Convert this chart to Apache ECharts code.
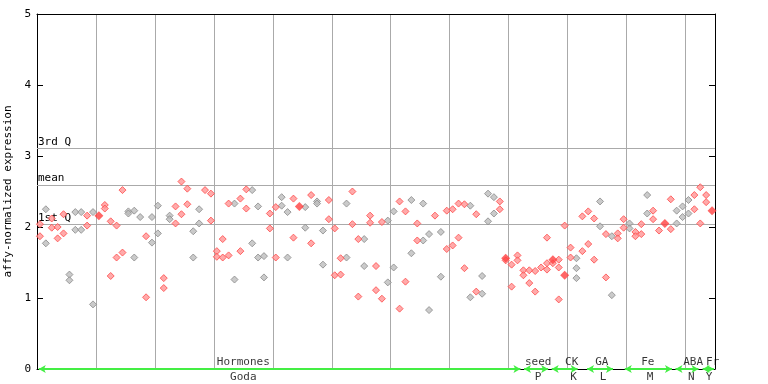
<!DOCTYPE html>
<html><head><meta charset="utf-8">
<script src="https://cdn.jsdelivr.net/npm/echarts@6/dist/echarts.min.js"></script>
<style>html,body{margin:0;padding:0;background:#fff}#c{width:768px;height:384px}</style>
</head><body><div id="c"></div>
<script>
// expression values per sample column (115 columns)
const columnValues = [
 [2.04,1.87],[2.25,1.77],[2.12,1.99],[2.00,1.84],[2.18,1.91],[1.33,1.25],[2.21,1.96],[2.21,1.96],[2.16,2.02],[2.21,0.91],
 [],[2.31,2.26],[2.08,1.31],[2.02,1.57],[2.52,1.64],[2.22,2.19],[2.23,1.57],[2.14],[1.87,1.01],[2.14,1.78],
 [2.30,1.91],[1.28,1.14],[2.16,2.11],[2.29,2.05],[2.64,2.18],[2.54,2.32],[1.94,1.57],[2.25,2.05],[2.52],[2.47,2.09],
 [1.66,1.58],[1.83,1.57],[2.33,1.60],[2.33,1.26],[2.40,1.66],[2.53,2.26],[2.52,1.77],[2.29,1.57],[1.59,1.29],[2.19,1.98],
 [2.28,1.57],[2.42,2.30],[2.21,1.57],[2.40,1.85],[],[2.28,1.99],[2.45,1.77],[2.36,2.33],[1.95,1.47],[2.38,2.11],
 [1.98,1.32],[1.56,1.33],[2.33,1.57],[2.50,2.04],[1.83,1.02],[1.83,1.45],[2.16,2.06],[1.45,1.11],[2.07,0.99],[2.09,1.22],
 [2.22,1.43],[2.36,0.85],[2.22,1.23],[2.38,1.63],[2.05,1.81],[2.33,1.81],[1.90,0.83],[2.16],[1.93,1.30],[2.23,1.69],
 [2.25,1.74],[2.33,1.85],[2.32,1.42],[2.30,1.01],[2.18,1.09],[1.31,1.06],[2.47,2.08],[2.42,2.19],[2.36,2.25],[1.53],
 [1.47,1.16],[1.60,1.53],[1.39,1.32],[1.39,1.21],[1.38,1.09],[1.43],[1.85,1.49,1.40],[1.49],[1.54,1.43,0.98],[2.02],
 [1.71,1.57],[1.56,1.42,1.28],[2.15,1.66],[2.22,1.76],[2.12,1.54],[2.36,2.01],[1.90,1.29],[1.87,1.04],[1.91,1.84],[2.11,1.99],
 [2.05,1.98],[1.93,1.87],[2.04,1.90],[2.45,2.19],[2.23,2.11],[1.95],[],[2.39,1.97],[2.23,2.05],[2.29,2.14],
 [2.38,2.19],[2.45,2.25],[2.56,2.05],[2.45,2.35],[]
];
// r = red sample, g = grey sample
const columnColor = "rgrrrgggrgrrrrrgggrggrgrrrggrrrrrgrrgggrrggrrgrggrrrgrrgrrrggrrgrggrgrrrrgrgggrrrrrrrrrrrrrgrrrgrgrrgrrgrrgrgggrr";
// highlighted (solid) samples: [column, value]
const highlightCols = [10,44,79,87,89,106,114];
const highlightVals = [2.16,2.29,1.56,1.54,1.32,2.05,2.23];
// quartile reference lines
const refNames = ['3rd Q','mean','1st Q'];
const refValues = [3.11,2.59,2.04];
// experiment groups (column ranges)
const groupNames = ['Hormones','seed','CK','GA','Fe','ABA','Fr'];
const groupCodes = ['Goda','P','K','L','M','N','Y'];
const groupStart = [0.3,82.6,87.3,93.3,99.7,108.3,112.9];
const groupEnd = [82.0,86.7,91.7,97.7,107.7,112.2,114.8];
const groupLabelAt = [35,85,90.7,95.8,103.6,111.3,114.6];
const groupCodeAt = [35,85,91,96,104,111,114];
const yTicks = [0,1,2,3,4,5];

const FONT = 'DejaVu Sans Mono';
const red = [], grey = [];
columnValues.forEach((vals,i)=>{
  vals.forEach(v=>{ (columnColor[i]==='g'?grey:red).push([i+0.5,v]); });
});
const hi = highlightCols.map((c,k)=>[c+0.5,highlightVals[k]]);

const chart = echarts.init(document.getElementById('c'),null,{renderer:'canvas'});
chart.setOption({
  animation:false,
  grid:{left:37,right:53,top:14,bottom:15,containLabel:false,outerBoundsMode:'none'},
  xAxis:[
    {type:'value',min:0,max:columnValues.length,interval:10,position:'bottom',
     axisLine:{show:true,onZero:false,lineStyle:{color:'#000',width:1}},axisTick:{show:false},axisLabel:{show:false},
     splitLine:{show:true,lineStyle:{color:'#aaaaaa',width:1}}},
    {type:'value',min:0,max:columnValues.length,position:'top',
     axisLine:{show:true,onZero:false,lineStyle:{color:'#000',width:1}},axisTick:{show:false},axisLabel:{show:false},splitLine:{show:false}}
  ],
  yAxis:[
    {type:'value',min:yTicks[0],max:yTicks[yTicks.length-1],interval:1,
     axisLine:{show:true,onZero:false,lineStyle:{color:'#000',width:1}},
     axisTick:{show:true,inside:true,length:6,lineStyle:{color:'#000'}},
     axisLabel:{color:'#000',fontFamily:FONT,fontSize:11,margin:6},
     splitLine:{show:false},
     name:'affy-normalized expression',nameLocation:'middle',nameGap:20,
     nameTextStyle:{color:'#000',fontFamily:FONT,fontSize:11}},
    {type:'value',min:yTicks[0],max:yTicks[yTicks.length-1],interval:1,position:'right',
     axisLine:{show:true,onZero:false,lineStyle:{color:'#000',width:1}},
     axisTick:{show:true,inside:true,length:6,lineStyle:{color:'#000'}},
     axisLabel:{show:false},splitLine:{show:false}}
  ],
  series:[
    {type:'scatter',name:'grey',data:grey,symbol:'diamond',symbolSize:7,z:3,
     itemStyle:{color:'#bdbdbd',borderColor:'#8a8a8a',borderWidth:1},
     markLine:{silent:true,symbol:'none',z:1,
       lineStyle:{color:'#aaaaaa',type:'solid',width:1},
       label:{show:true,position:'insideStartTop',formatter:'{b}',color:'#000',fontFamily:FONT,fontSize:11,distance:[1,1]},
       data:refNames.map((n,k)=>({name:n,yAxis:refValues[k]}))}},
    {type:'scatter',name:'red',data:red,symbol:'diamond',symbolSize:7,z:4,
     itemStyle:{color:'#ff9595',borderColor:'#ff4848',borderWidth:1}},
    {type:'scatter',name:'hi',data:hi,symbol:'diamond',symbolSize:9,z:5,
     itemStyle:{color:'#ff4040'}},
    {type:'scatter',name:'groups',data:groupLabelAt.map((x,k)=>({value:[x,0],name:groupNames[k]})),
     symbolSize:0,z:6,silent:true,clip:false,
     label:{show:true,position:'top',distance:1,formatter:'{b}',color:'#000',fontFamily:FONT,fontSize:11},
     markLine:{silent:true,z:7,symbol:['arrow','arrow'],symbolSize:[6,7],
       lineStyle:{color:'#44ee44',type:'solid',width:2},label:{show:false},
       data:groupStart.map((s,k)=>[{coord:[s,0]},{coord:[groupEnd[k],0]}])}},
    {type:'scatter',name:'codes',data:groupCodeAt.map((x,k)=>({value:[x,0],name:groupCodes[k]})),
     symbolSize:0,z:6,silent:true,clip:false,
     label:{show:true,position:'bottom',distance:3,formatter:'{b}',color:'#000',fontFamily:FONT,fontSize:11}}
  ]
});
</script></body></html>
